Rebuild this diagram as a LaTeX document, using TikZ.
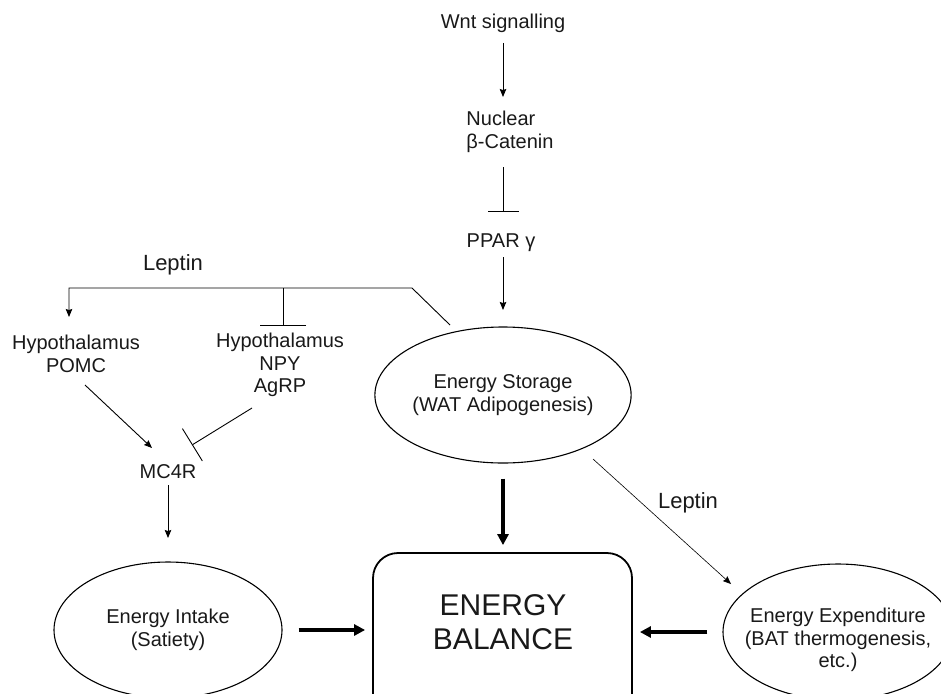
\documentclass[tikz,border=0pt]{standalone}
\usepackage{fontspec}
\setmainfont{Liberation Sans}
\usetikzlibrary{arrows.meta,shapes.geometric}
\begin{document}
\begin{tikzpicture}[x=1pt,y=-1pt,
  lbl/.style={font=\fontsize{20}{22.5}\selectfont, inner sep=0pt, align=center, text=black!90},
  leplbl/.style={font=\fontsize{22}{26}\selectfont, inner sep=0pt, text=black!90},
  arr/.style={line width=0.9pt, -{Stealth[length=8pt,width=6.5pt,inset=1pt]}},
  thinarr/.style={line width=0.6pt, -{Stealth[length=8pt,width=6.5pt,inset=1pt]}},
  inh/.style={line width=0.9pt, -{Bar[width=#1]}},
  big/.style={line width=3.2pt, -{Triangle[length=11pt,width=11pt]}},
  oval/.style={draw, ellipse, line width=1.1pt, inner sep=0pt, minimum width=228pt, minimum height=136pt}
]
\clip (0,0) rectangle (941,693);

% text nodes
\node[lbl] (wnt) at (503,23) {Wnt signalling};
\node[lbl, align=left] (nuc) at (510,132) {Nuclear\\β-Catenin};
\node[lbl] (ppar) at (501,243) {PPAR γ};
\node[leplbl] (lep1) at (173,265) {Leptin};
\node[lbl] (pomc) at (76,354) {Hypothalamus\\POMC};
\node[lbl] (npy) at (280,365) {Hypothalamus\\NPY\\AgRP};
\node[oval, lbl, minimum width=227pt] (sto) at (503,395) {Energy Storage\\(WAT Adipogenesis)};
\node[lbl] (mc4r) at (168,472) {MC4R};
\node[leplbl] (lep2) at (688,503) {Leptin};
\node[oval, lbl] (int) at (168,630) {Energy Intake\\(Satiety)};
\node[draw, rounded corners=25pt, line width=1.8pt, minimum width=259pt, minimum height=167pt, inner sep=0pt] (bal) at (502.5,636.5) {};
\node[inner sep=0pt, align=center, text=black!90, font=\fontsize{30}{34}\selectfont] (baltxt) at (503,622) {ENERGY\\BALANCE};
\node[oval, minimum width=230pt] (exp) at (838,632) {};
\node[lbl] (exptxt) at (838,640) {Energy Expenditure\\(BAT thermogenesis,\\etc.)};

% connector end points
\coordinate (wA) at (503,43);  \coordinate (wB) at (503,97);
\coordinate (cA) at (503,167); \coordinate (cB) at (503,212);
\coordinate (pA) at (503,257); \coordinate (pB) at (503,310);
\coordinate (sA) at (450,325); \coordinate (sB) at (412,288);
\coordinate (sC) at (69,288);  \coordinate (sD) at (69,317);
\coordinate (nA) at (283,288); \coordinate (nB) at (283,326);
\coordinate (mA) at (85,385);  \coordinate (mB) at (152,448);
\coordinate (gA) at (252,408); \coordinate (gB) at (192,445);
\coordinate (kA) at (168,485); \coordinate (kB) at (168,538);
\coordinate (lA) at (593,459); \coordinate (lB) at (731,584);

\draw[arr] (wA) -- (wB);
\draw[inh=31pt] (cA) -- (cB);
\draw[arr] (pA) -- (pB);
\draw[arr] (sA) -- (sB) -- (sC) -- (sD);
\draw[inh=46pt] (nA) -- (nB);
\draw[arr] (mA) -- (mB);
\draw[inh=38pt] (gA) -- (gB);
\draw[arr] (kA) -- (kB);
\draw[thinarr] (lA) -- (lB);

% thick arrows into the balance box
\draw[big, shorten <=15pt, shorten >=7pt] (sto.south) -- (sto.south |- bal.north);
\draw[big, shorten <=16pt, shorten >=7pt] (int.east) -- (int.east -| bal.west);
\draw[big, shorten <=15pt, shorten >=7pt] (exp.west) -- (exp.west -| bal.east);
\end{tikzpicture}
\end{document}
